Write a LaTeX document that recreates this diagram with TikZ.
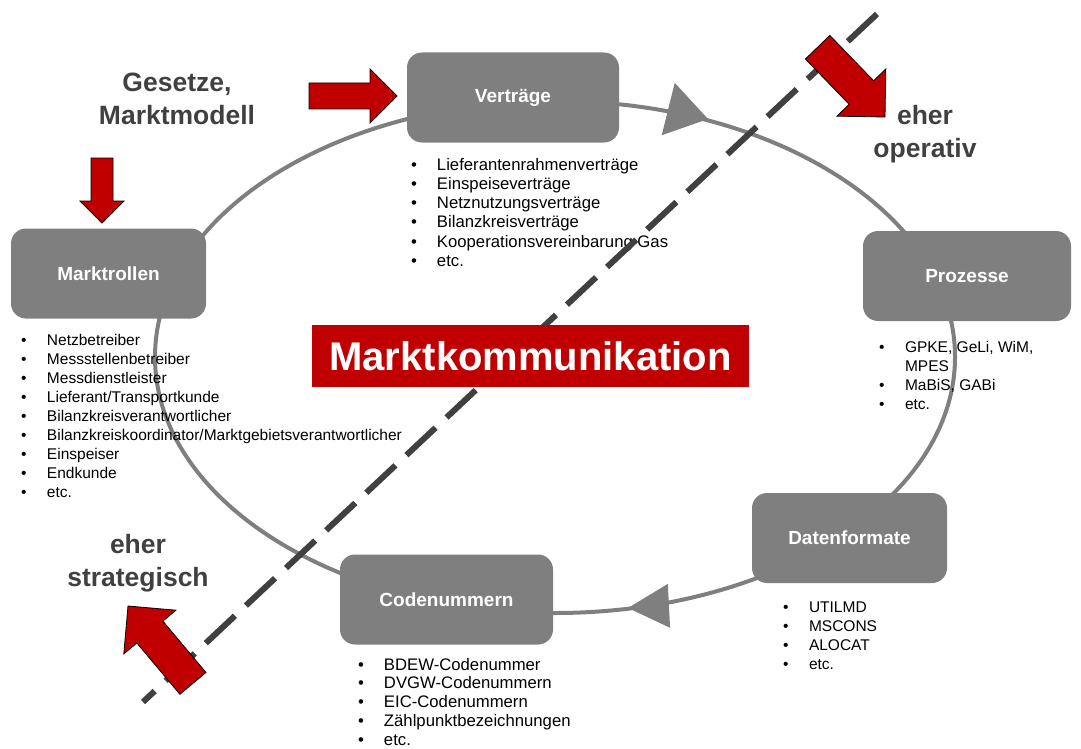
\documentclass[tikz,border=0pt]{standalone}
\usepackage{fontspec}
\setmainfont{Liberation Sans}
\usetikzlibrary{positioning}
\definecolor{boxgray}{HTML}{7F7F7F}
\definecolor{darktext}{HTML}{404040}
\definecolor{signalred}{HTML}{C00000}
\newcommand{\itm}[1]{\strut\makebox[26pt][l]{\textbullet}#1}
\newcommand{\blockarrow}[6]{%
  \filldraw[redarrow,shift={(#1,#2)},rotate=#3] (0,0)--(-#6,#6)--(-#6,#5)--(-#4,#5)--(-#4,-#5)--(-#6,-#5)--(-#6,-#6)--cycle;}

\begin{document}
\begin{tikzpicture}[x=1pt,y=-1pt,
phase/.style={fill=boxgray,rounded corners=15pt,text=white,minimum height=90pt,font=\bfseries\fontsize{19}{23}\selectfont},
itemlist/.style={inner sep=0pt,align=left,font=\fontsize{15.5}{19}\selectfont},
biglist/.style={itemlist,font=\fontsize{16.7}{19.2}\selectfont},
heading/.style={text=darktext,align=center,font=\bfseries\fontsize{26.5}{32.5}\selectfont},
ring/.style={draw=boxgray,line width=4pt},
ringtip/.style={fill=boxgray},
divider/.style={draw=darktext,line width=6pt,dash pattern=on 40pt off 15pt},
redarrow/.style={fill=signalred,draw=black,line width=0.8pt,line join=miter},
mkbox/.style={fill=signalred,text=white,minimum width=437pt,minimum height=62pt,font=\bfseries\fontsize{40}{48}\selectfont}]
\useasboundingbox (0,0) rectangle (1081,749);
\draw[ring] (555,357) ellipse [x radius=400pt,y radius=256pt];
\fill[ringtip,shift={(708,119)},rotate=-14] (0,0)--(-41,27)--(-41,-27)--cycle;
\fill[ringtip,shift={(628,608)},rotate=183] (0,0)--(-41,22)--(-41,-22)--cycle;
\node[phase,minimum width=212pt] (vertraege) at (513,97.5) {Verträge};
\node[phase,minimum width=195pt] (marktrollen) at (108.5,273.5) {Marktrollen};
\node[phase,minimum width=208pt] (prozesse) at (967,276) {Prozesse};
\node[phase,minimum width=195pt] (datenformate) at (849.5,538) {Datenformate};
\node[phase,minimum width=213pt] (codenummern) at (446.5,599.5) {Codenummern};
\node[biglist,below right=14pt and 4pt of vertraege.south west] (vertraegeliste) {\itm{Lieferantenrahmenverträge}\\\itm{Einspeiseverträge}\\\itm{Netznutzungsverträge}\\\itm{Bilanzkreisverträge}\\\itm{Kooperationsvereinbarung Gas}\\\itm{etc.}};
\node[itemlist,below right=13.7pt and 10pt of marktrollen.south west] (marktrollenliste) {\itm{Netzbetreiber}\\\itm{Messstellenbetreiber}\\\itm{Messdienstleister}\\\itm{Lieferant/Transportkunde}\\\itm{Bilanzkreisverantwortlicher}\\\itm{Bilanzkreiskoordinator/Marktgebietsverantwortlicher}\\\itm{Einspeiser}\\\itm{Endkunde}\\\itm{etc.}};
\node[itemlist,below right=17.7pt and 16pt of prozesse.south west] (prozesseliste) {\itm{GPKE, GeLi, WiM,}\\\strut\hspace*{26pt}MPES\\\itm{MaBiS, GABi}\\\itm{etc.}};
\node[itemlist,below right=15.7pt and 31pt of datenformate.south west] (datenformateliste) {\itm{UTILMD}\\\itm{MSCONS}\\\itm{ALOCAT}\\\itm{etc.}};
\node[biglist,font=\fontsize{16.7}{18.8}\selectfont,below right=12pt and 18pt of codenummern.south west] (codenummernliste) {\itm{BDEW-Codenummer}\\\itm{DVGW-Codenummern}\\\itm{EIC-Codenummern}\\\itm{Zählpunktbezeichnungen}\\\itm{etc.}};
\node[heading] (gesetze) at (177,99) {Gesetze,\\Marktmodell};
\node[heading] (operativ) at (925,134) {eher\\operativ};
\node[heading] (strategisch) at (138,563) {eher\\strategisch};
\coordinate (divtop) at (877,14);
\coordinate (divbottom) at (143,702);
\draw[divider] (divtop)--(divbottom);
\node[mkbox] (markt) at (530.5,356) {Marktkommunikation};
\blockarrow{397}{96}{0}{88}{13}{27}
\blockarrow{102}{223}{-90}{65}{11}{22}
\blockarrow{885}{117}{-46}{97}{17}{34}
\blockarrow{128}{606}{130}{101}{17}{34}
\end{tikzpicture}
\end{document}
